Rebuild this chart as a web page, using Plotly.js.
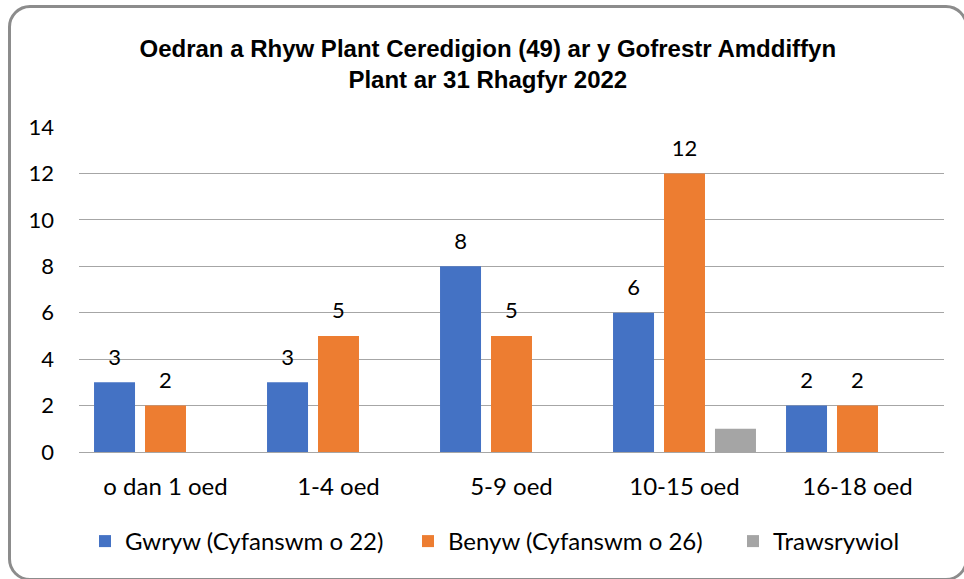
<!DOCTYPE html>
<html>
<head>
<meta charset="utf-8">
<script src="https://cdn.plot.ly/plotly-3.0.1.min.js"></script>
<style>
html,body{margin:0;padding:0;background:#fff;overflow:hidden;}
#chart{width:964px;height:579px;position:absolute;left:0;top:0;}
#frame{position:absolute;left:8px;top:5px;width:960px;height:576px;border:3px solid #8c8c8c;border-radius:22px;box-sizing:border-box;pointer-events:none;}
</style>
</head>
<body>
<div id="chart"></div>
<div id="frame"></div>
<script>
const categories = ['o dan 1 oed', '1-4 oed', '5-9 oed', '10-15 oed', '16-18 oed'];
const seriesNames = ['Gwryw (Cyfanswm o 22)', 'Benyw (Cyfanswm o 26)', 'Trawsrywiol'];
const gwryw = [3, 3, 8, 6, 2];
const benyw = [2, 5, 5, 12, 2];
const trawsrywiol = [0, 0, 0, 1, 0];
const yTicks = [0, 2, 4, 6, 8, 10, 12, 14];
const colors = ['#4472C4', '#ED7D31', '#A5A5A5'];
const showLabels = [true, true, false];

const FONT = 'Lato, "Open Sans", sans-serif';
const series = [gwryw, benyw, trawsrywiol];

const data = [];
series.forEach((vals, i) => {
  data.push({
    type: 'bar', name: seriesNames[i], x: categories, y: vals,
    marker: {color: colors[i]},
    legend: i === 0 ? 'legend' : 'legend' + (i + 1),
    hoverinfo: 'x+y+name'
  });
});
// data labels, grouped like the bars
series.forEach((vals, i) => {
  data.push({
    type: 'scatter', mode: 'markers+text', x: categories, y: vals,
    text: vals.map(v => showLabels[i] && v ? String(v) : ''),
    textposition: 'top center',
    textfont: {family: FONT, size: 22, color: '#000'},
    marker: {size: 18, color: 'rgba(0,0,0,0)', line: {width: 0}},
    showlegend: false, cliponaxis: false, hoverinfo: 'skip'
  });
});

function legendAt(px) {
  return {
    orientation: 'h', x: (px - 79) / 865, xanchor: 'left',
    y: 1 - 519 / 579, yref: 'container', yanchor: 'top',
    font: {family: FONT, size: 24, color: '#000'}, bgcolor: 'rgba(0,0,0,0)'
  };
}

const layout = {
  width: 964, height: 579,
  margin: {l: 79, r: 20, t: 127, b: 127},
  paper_bgcolor: '#fff', plot_bgcolor: '#fff',
  font: {family: FONT, size: 22, color: '#000'},
  title: {
    text: '<b>Oedran a Rhyw Plant Ceredigion (49) ar y Gofrestr Amddiffyn<br>Plant ar 31 Rhagfyr 2022</b>',
    font: {family: '"Liberation Sans", Arial, sans-serif', size: 24, color: '#000'},
    x: 0.506, xanchor: 'center', y: 0.902, yanchor: 'top', yref: 'container'
  },
  barmode: 'group', bargap: 0.116, bargroupgap: 0.196,
  scattermode: 'group', scattergap: 0.116,
  xaxis: {
    showgrid: false, zeroline: false, showline: false, ticks: '',
    tickfont: {family: FONT, size: 24, color: '#000'},
    ticklabelstandoff: 18
  },
  yaxis: {
    range: [0, 14], tickvals: yTicks, ticktext: yTicks.map(String),
    showgrid: true, gridcolor: '#a6a6a6', gridwidth: 1,
    zeroline: true, zerolinecolor: '#a6a6a6', zerolinewidth: 1,
    showline: false, ticks: '',
    tickfont: {family: FONT, size: 22, color: '#000'},
    ticklabelstandoff: 24
  },
  legend: legendAt(85),
  legend2: legendAt(408),
  legend3: legendAt(733),
  showlegend: true
};

Plotly.newPlot('chart', data, layout, {displayModeBar: false, staticPlot: true});
</script>
</body>
</html>
